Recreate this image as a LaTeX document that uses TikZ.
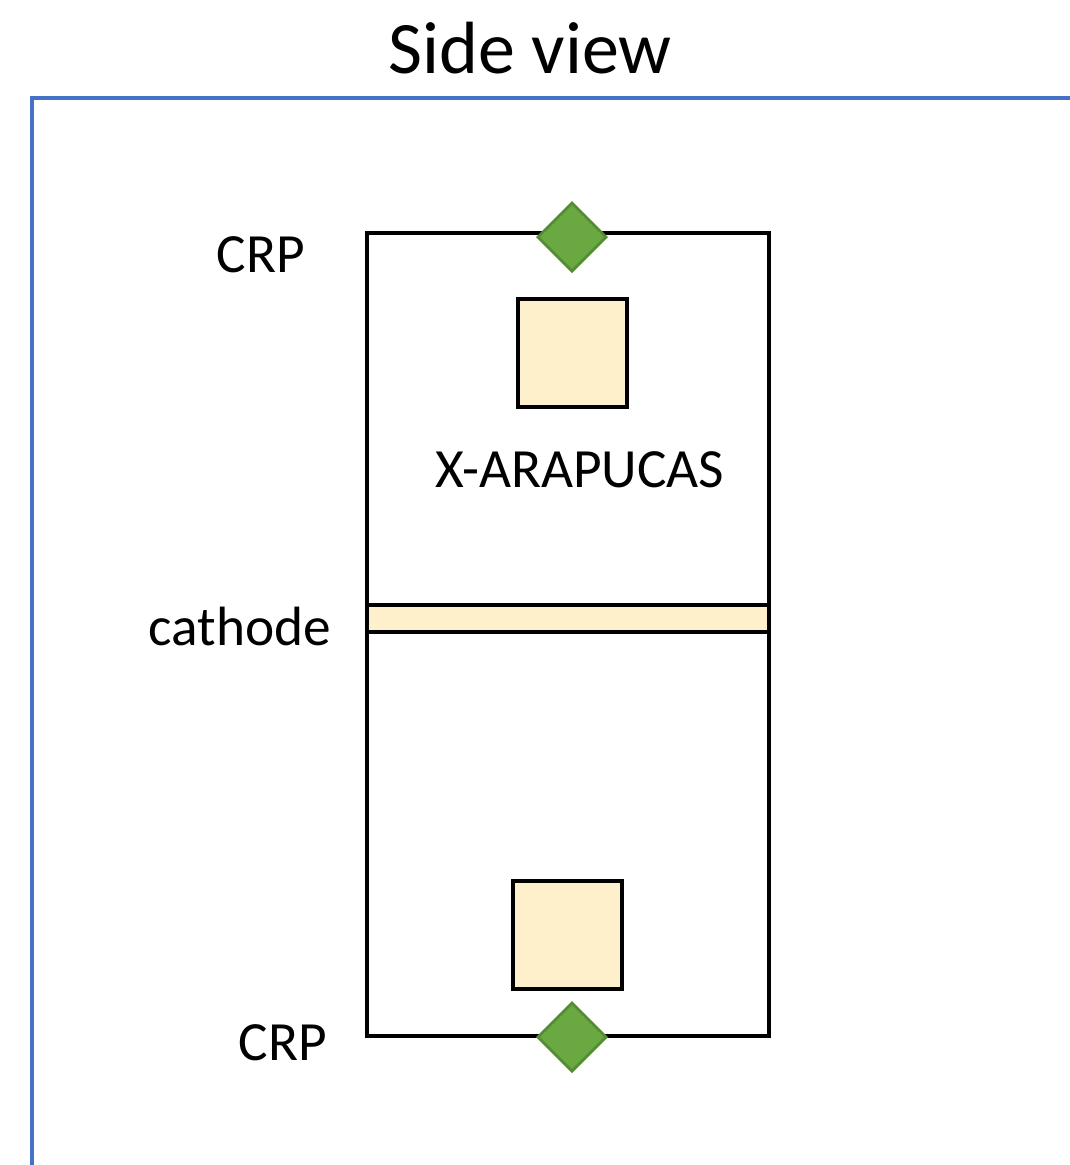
\documentclass[tikz,border=0pt]{standalone}
\usepackage{fontspec}
\setmainfont{Carlito}
\usetikzlibrary{shapes.geometric}
\definecolor{frameblue}{RGB}{68,114,196}
\definecolor{paleyellow}{RGB}{255,240,204}
\definecolor{crpgreen}{RGB}{106,168,66}
\definecolor{crpedge}{RGB}{84,140,52}
\tikzset{
  outline/.style={draw=black, line width=3pt},
  detbox/.style={outline, fill=paleyellow, rectangle, inner sep=0pt},
  pds/.style={detbox, minimum width=81.5pt, minimum height=81pt},
  crp/.style={diamond, draw=crpedge, fill=crpgreen, line width=2pt,
    minimum width=52pt, minimum height=52pt, inner sep=0pt, aspect=1},
  label/.style={font=\fontsize{41.5}{48}\selectfont, inner sep=0pt},
}
\begin{document}
\begin{tikzpicture}[x=0.75pt, y=-0.75pt]
  \useasboundingbox (0,0) rectangle (1070,1165);
  \fill[white] (0,0) rectangle (1070,1165);
  % outer frame (continues past the right and bottom edges)
  \draw[frameblue, line width=2.4pt] (32,1175) -- (32,98) -- (1080,98);
  \node[font=\fontsize{55.5}{64}\selectfont, inner sep=0pt] (title) at (530,48) {Side view};
  % detector volume
  \draw[outline] (367,233) rectangle (769,1036);
  \node[detbox, minimum width=301.5pt, minimum height=20.25pt] (cathode) at (568,618.5) {};
  % photon detectors
  \node[pds] (xaTop) at (572.5,353) {};
  \node[pds] (xaBot) at (567.5,935) {};
  % CRP markers
  \node[crp] (crpTop) at (572,237) {};
  \node[crp] (crpBot) at (572,1037) {};
  % labels
  \node[label] (lcrpTop) at (261,255) {CRP};
  \node[label] (lcrpBot) at (283,1043) {CRP};
  \node[label] (lcath) at (240,626) {cathode};
  \node[label] (lxa) at (580,470) {X-ARAPUCAS};
\end{tikzpicture}
\end{document}
